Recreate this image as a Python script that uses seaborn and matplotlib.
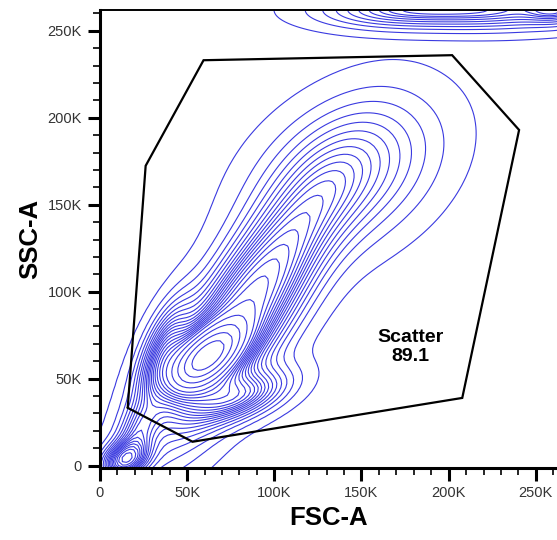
import matplotlib
matplotlib.use("Agg")
import matplotlib.pyplot as plt
import numpy as np
import pandas as pd
import seaborn as sns
from matplotlib.ticker import MultipleLocator

# populations, FSC-A / SSC-A in K
# centre, spread, tilt and share of events for each cluster
pop_name = ["core", "body", "upper", "bottom", "left", "debris", "bridge"]
pop_fsc = [60, 82, 142, 82, 36, 14, 22]
pop_ssc = [62, 88, 168, 40, 66, 3, 20]
pop_sd_fsc = [13, 32, 33, 18, 9, 8, 7]
pop_sd_ssc = [11, 45, 28, 8.5, 18, 5, 10]
pop_corr = [0.55, 0.8, 0.35, 0.5, 0.6, 0.0, 0.3]
pop_w = [1.2, 5.0, 2.0, 0.45, 0.4, 0.25, 0.15]

# off-scale events piled up at the SSC ceiling
top_fsc = [165, 225, 262]
top_ssc = [262, 262, 262]
top_sd_fsc = [28, 35, 5]
top_sd_ssc = [7, 7.5, 5]
top_corr = [0.0, 0.0, 0.0]
top_w = [0.6, 1.0, 0.12]

# gate polygon
gate_fsc = [15.9, 26.2, 59.4, 202, 240.4, 207.8, 53.1]
gate_ssc = [33.2, 172.4, 233.1, 236, 193, 38.9, 13.7]
gate_name = "Scatter"
gate_pct = 89.1

tick_vals = [0, 50, 100, 150, 200, 250]
tick_labels = ["0", "50K", "100K", "150K", "200K", "250K"]


def event_grid(fsc, ssc, sd_f, sd_s, corr, w, step=2.5):
    # weight of events on a regular grid, from the cluster description
    gx, gy = np.meshgrid(np.arange(-20, 295, step), np.arange(-20, 295, step))
    dens = np.zeros_like(gx)
    for mx, my, sx, sy, r, wt in zip(fsc, ssc, sd_f, sd_s, corr, w):
        u = (gx - mx) / sx
        v = (gy - my) / sy
        q = (u * u - 2 * r * u * v + v * v) / (1 - r * r)
        dens += wt * np.exp(-0.5 * q) / (sx * sy * np.sqrt(1 - r * r))
    return pd.DataFrame({"fsc": gx.ravel(), "ssc": gy.ravel(), "w": dens.ravel()})


sns.set_style("ticks")
plt.rcParams["font.family"] = ["Liberation Sans", "DejaVu Sans"]

main = event_grid(pop_fsc, pop_ssc, pop_sd_fsc, pop_sd_ssc, pop_corr, pop_w)
top = event_grid(top_fsc, top_ssc, top_sd_fsc, top_sd_ssc, top_corr, top_w, step=1.5)
main = main[main.w > main.w.max() * 1e-4]
top = top[top.w > top.w.max() * 1e-4]

fig = plt.figure(figsize=(5.57, 5.40), dpi=100)
ax = fig.add_axes([0.1795, 0.133, 0.8205, 0.849])

line_col = "#3a3ae0"
sns.kdeplot(data=main, x="fsc", y="ssc", weights="w", levels=24, thresh=0.02,
            bw_adjust=0.35, gridsize=150, color=line_col, linewidths=0.8, ax=ax)
sns.kdeplot(data=top, x="fsc", y="ssc", weights="w", levels=11, thresh=0.04,
            bw_adjust=0.8, gridsize=180, color=line_col, linewidths=0.8, ax=ax)

gx = gate_fsc + gate_fsc[:1]
gy = gate_ssc + gate_ssc[:1]
ax.plot(gx, gy, color="black", lw=1.6, solid_joinstyle="miter")
ax.text(178, 68, f"{gate_name}\n{gate_pct}", ha="center", va="center",
        fontsize=14, fontweight="bold", linespacing=1.15, color="black")

ax.set_xlim(0, 262.144)
ax.set_ylim(-1.5, 262.144)
ax.set_xticks(tick_vals)
ax.set_xticklabels(tick_labels)
ax.set_yticks(tick_vals)
ax.set_yticklabels(tick_labels)
ax.xaxis.set_minor_locator(MultipleLocator(10))
ax.yaxis.set_minor_locator(MultipleLocator(10))
ax.tick_params(which="major", length=9, width=2.2, labelsize=10.5,
               labelcolor="#333333", color="black", pad=4)
ax.tick_params(which="minor", length=5, width=1.2, color="black")
ax.set_xlabel("FSC-A", fontsize=18.5, fontweight="bold", labelpad=4, color="black")
ax.set_ylabel("SSC-A", fontsize=18.5, fontweight="bold", labelpad=4, color="black")
for side in ["left", "bottom"]:
    ax.spines[side].set_linewidth(2.2)
    ax.spines[side].set_color("black")
ax.spines["top"].set_linewidth(1.4)
ax.spines["top"].set_color("black")
ax.spines["right"].set_visible(False)

fig.savefig("out.png", dpi=100)
